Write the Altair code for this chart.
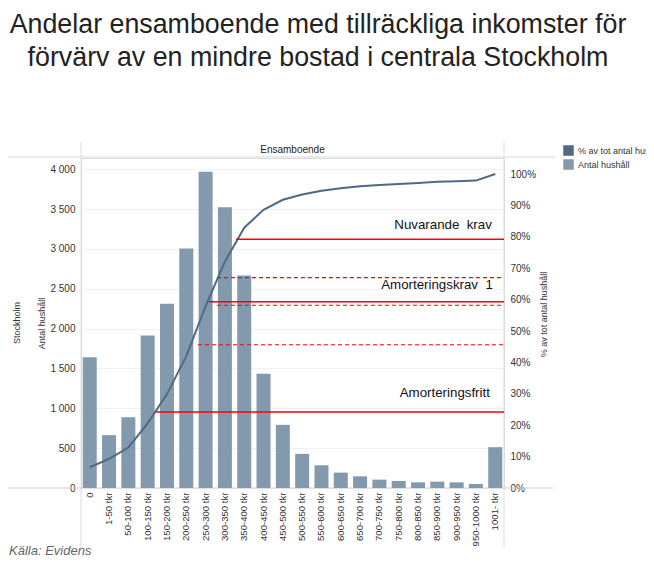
import altair as alt
import pandas as pd

# ---------------- data ----------------
categories = ["0", "1-50 tkr", "50-100 tkr", "100-150 tkr", "150-200 tkr", "200-250 tkr",
              "250-300 tkr", "300-350 tkr", "350-400 tkr", "400-450 tkr", "450-500 tkr",
              "500-550 tkr", "550-600 tkr", "600-650 tkr", "650-700 tkr", "700-750 tkr",
              "750-800 tkr", "800-850 tkr", "850-900 tkr", "900-950 tkr", "950-1000 tkr",
              "1001- tkr"]
households = [1640, 663, 889, 1912, 2311, 3006, 3966, 3522, 2667, 1434, 792,
              428, 285, 193, 147, 105, 88, 71, 80, 71, 50, 512]
share_cum = [0.066, 0.093, 0.129, 0.206, 0.299, 0.420, 0.579, 0.721, 0.829, 0.886, 0.918,
             0.935, 0.947, 0.955, 0.961, 0.965, 0.968, 0.971, 0.975, 0.977, 0.979, 1.0]

# threshold lines (level as share, start in category-index units)
ref_level = [0.792, 0.670, 0.593, 0.582, 0.456, 0.242]
ref_start = [7.58, 6.59, 6.18, 6.59, 5.61, 3.43]
ref_kind = ["solid", "dashed", "solid", "dashed", "dashed", "solid"]

label_text = ["Nuvarande\u00a0 krav", "Amorteringskrav\u00a0 1", "Amorteringsfritt"]
label_x = [20.83, 20.88, 20.73]
label_y = [0.837, 0.648, 0.301]

series_names = ["% av tot antal hushåll", "Antal hushåll"]

title_lines = ["Andelar ensamboende med tillräckliga inkomster för",
               "förvärv av en mindre bostad i centrala Stockholm"]

FONT = "Liberation Sans"
W, H = 423, 330
BAR_C = "#8399ad"
LINE_C = "#4e6a85"

df = pd.DataFrame({"cat": categories, "n": households, "p": share_cum})
ref_df = pd.DataFrame({"lvl": ref_level, "x0": ref_start, "kind": ref_kind})
lab_df = pd.DataFrame({"t": label_text, "lx": label_x, "ly": label_y})
one = pd.DataFrame({"k": [0]})

x_enc = alt.X("cat:N", sort=categories,
              scale=alt.Scale(paddingInner=0.275, paddingOuter=0.09),
              axis=alt.Axis(title=None, labelAngle=-90, labelFontSize=9.6, labelColor="#333",
                            labelFont=FONT, ticks=False, domain=False, labelPadding=4))

color_scale = alt.Scale(domain=series_names, range=[LINE_C, BAR_C])

bars = alt.Chart(df).transform_calculate(series="'Antal hushåll'").mark_bar().encode(
    x=x_enc,
    y=alt.Y("n:Q", scale=alt.Scale(domain=[0, 4140], nice=False),
            axis=alt.Axis(values=list(range(0, 4001, 500)),
                          labelExpr="replace(format(datum.value, ','), ',', ' ')",
                          title="Antal hushåll", titleX=-40, titleY=165, titleAngle=270,
                          titleBaseline="middle", titleAlign="center", titleFontSize=9,
                          titleFontWeight="normal", titleFont=FONT, titleColor="#333",
                          ticks=False, domain=False, grid=True, gridColor="#f0f0f0",
                          labelPadding=6, labelFontSize=10, labelFont=FONT, labelColor="#333")),
    color=alt.Color("series:N", scale=color_scale,
                    legend=alt.Legend(title=None, orient="none", legendX=482, legendY=-13,
                                      symbolType="square", symbolSize=110,
                                      symbolStrokeWidth=0, labelFontSize=9,
                                      labelFont=FONT, labelColor="#333", rowPadding=3,
                                      labelOffset=4, labelLimit=300)),
)

line = alt.Chart(df).transform_calculate(series="'% av tot antal hushåll'").mark_line(
    strokeWidth=2).encode(
    x=x_enc,
    y=alt.Y("p:Q", scale=alt.Scale(domain=[0, 1.051], nice=False),
            axis=alt.Axis(orient="right", format=".0%", values=[i / 10 for i in range(11)],
                          title="% av tot antal hushåll", titleX=39, titleY=156, titleAngle=270,
                          titleBaseline="middle", titleAlign="center", titleFontSize=9,
                          titleFontWeight="normal", titleFont=FONT, titleColor="#333",
                          ticks=False, domain=False, grid=False, labelPadding=6,
                          labelFontSize=10, labelFont=FONT, labelColor="#333")),
    color=alt.Color("series:N", scale=color_scale),
)

rules = alt.Chart(ref_df).mark_rule(color="#ff0000").encode(
    x=alt.X("x0:Q", scale=alt.Scale(domain=[-0.45, 21.46], nice=False, zero=False), axis=None),
    x2=alt.value(W),
    y=alt.Y("lvl:Q", scale=alt.Scale(domain=[0, 1.051], nice=False), axis=None),
    strokeDash=alt.StrokeDash("kind:N", scale=alt.Scale(domain=["solid", "dashed"],
                                                         range=[[1, 0], [4, 3]]), legend=None),
    strokeWidth=alt.StrokeWidth("kind:N", scale=alt.Scale(domain=["solid", "dashed"],
                                                           range=[1.6, 1.1]), legend=None),
)

labels = alt.Chart(lab_df).mark_text(align="right", baseline="middle", fontSize=13.3,
                                     font=FONT, color="#111").encode(
    x=alt.X("lx:Q", scale=alt.Scale(domain=[-0.45, 21.46], nice=False, zero=False), axis=None),
    y=alt.Y("ly:Q", scale=alt.Scale(domain=[0, 1.051], nice=False), axis=None),
    text="t:N",
)

# decorative table frame (Tableau-style)
grey = "#dcdcdc"
hdr_line = alt.Chart(one).mark_rule(color="#e4e4e4", strokeWidth=1.5).encode(
    x=alt.value(-76), x2=alt.value(474), y=alt.value(-1))
vline_l = alt.Chart(one).mark_rule(color=grey).encode(
    x=alt.value(0), y=alt.value(-16), y2=alt.value(390))
vline_r = alt.Chart(one).mark_rule(color=grey).encode(
    x=alt.value(W), y=alt.value(-16), y2=alt.value(390))
base_line = alt.Chart(one).mark_rule(color="#cfcfcf").encode(
    x=alt.value(-76), x2=alt.value(472), y=alt.value(H))

header = alt.Chart(one).mark_text(fontSize=10, font=FONT, color="#222").encode(
    x=alt.value(W / 2), y=alt.value(-8), text=alt.value("Ensamboende"))
stock = alt.Chart(one).mark_text(fontSize=9, font=FONT, color="#333", angle=270).encode(
    x=alt.value(-64), y=alt.value(H / 2), text=alt.value("Stockholm"))
source = alt.Chart(one).mark_text(fontSize=13, font=FONT, color="#666", fontStyle="italic",
                                  align="left", baseline="alphabetic").encode(
    x=alt.value(-72), y=alt.value(397), text=alt.value("Källa: Evidens"))

title1 = alt.Chart(one).mark_text(fontSize=26.8, font=FONT, color="#222", align="center",
                                  baseline="alphabetic").encode(
    x=alt.value(237), y=alt.value(-124.7), text=alt.value(title_lines[0]))
title2 = alt.Chart(one).mark_text(fontSize=26.8, font=FONT, color="#222", align="center",
                                  baseline="alphabetic").encode(
    x=alt.value(237), y=alt.value(-92.3), text=alt.value(title_lines[1]))

main = alt.layer(bars, line).resolve_scale(y="independent")

chart = alt.layer(
    hdr_line, vline_l, vline_r, base_line, main, rules, labels, header, stock, source,
    title1, title2
).resolve_scale(x="independent", y="independent").properties(
    width=W, height=H,
    padding={"left": 73, "top": 150, "right": 142, "bottom": 69},
    autosize=alt.AutoSizeParams(type="none"),
).configure_view(stroke=None).configure(background="white")

chart.save("out.html", embed_options={"renderer": "svg", "actions": False})
